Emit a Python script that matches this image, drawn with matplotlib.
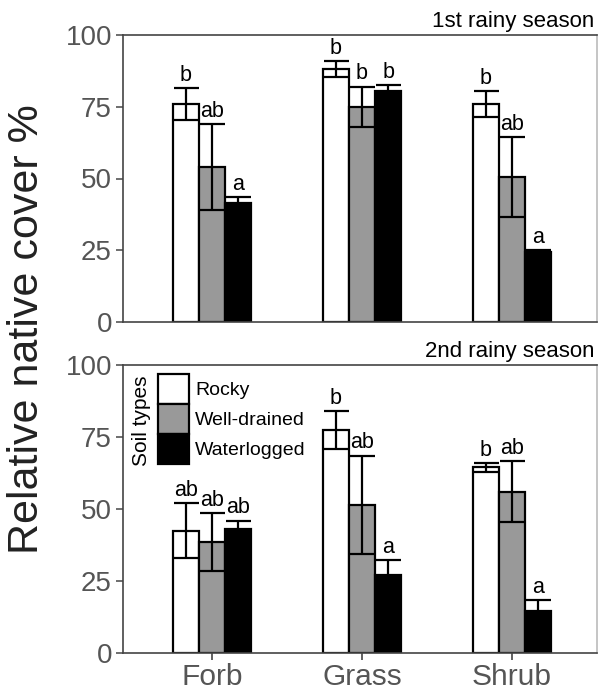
import numpy as np
import matplotlib.pyplot as plt
from matplotlib.patches import Patch

plt.rcParams['font.family'] = ['Liberation Sans', 'DejaVu Sans']

categories = ['Forb', 'Grass', 'Shrub']
soil_types = ['Rocky', 'Well-drained', 'Waterlogged']
soil_colors = ['white', '#999999', 'black']

# 1st rainy season: mean / SE per soil type (Forb, Grass, Shrub)
s1_rocky = [76, 88, 76]
s1_rocky_err = [5.5, 2.8, 4.5]
s1_well = [54, 75, 50.5]
s1_well_err = [15, 7, 14]
s1_water = [41.5, 80.5, 24.5]
s1_water_err = [2, 2, 0.5]
s1_letters = [['b', 'ab', 'a'], ['b', 'b', 'b'], ['b', 'ab', 'a']]

# 2nd rainy season
s2_rocky = [42.5, 77.5, 64.5]
s2_rocky_err = [9.5, 6.5, 1.5]
s2_well = [38.5, 51.5, 56]
s2_well_err = [10, 17, 10.5]
s2_water = [43, 27, 14.5]
s2_water_err = [3, 5.3, 3.8]
s2_letters = [['ab', 'ab', 'ab'], ['b', 'ab', 'a'], ['b', 'ab', 'a']]

W, H = 598, 698
fig = plt.figure(figsize=(W / 100, H / 100), dpi=100)
ax1 = fig.add_axes([123 / W, 1 - 322 / H, (597 - 123) / W, 287 / H])
ax2 = fig.add_axes([123 / W, 1 - 653 / H, (597 - 123) / W, 288 / H])

x = np.arange(len(categories))
bw = 0.175
offsets = [-bw, 0, bw]


def draw_panel(ax, means, errs, letters, title):
    for k in range(3):
        xs = x + offsets[k]
        ax.bar(xs, means[k], width=bw, color=soil_colors[k], edgecolor='black',
               linewidth=1.6, zorder=2)
        ax.errorbar(xs, means[k], yerr=errs[k], fmt='none', ecolor='black',
                    elinewidth=1.6, capsize=9, capthick=1.6, zorder=3)
        for i in range(len(categories)):
            ax.text(xs[i], means[k][i] + errs[k][i] + 0.8, letters[i][k],
                    ha='center', va='bottom', fontsize=15.5, color='black')
    ax.set_ylim(0, 100)
    ax.set_xlim(-0.593, 2.567)
    ax.set_yticks([0, 25, 50, 75, 100])
    ax.tick_params(axis='y', labelsize=20, colors='#555555', length=5, width=1.2,
                   labelcolor='#555555', pad=3)
    for sp in ax.spines.values():
        sp.set_linewidth(1.2)
        sp.set_color('#444444')
    ax.spines['right'].set_color('#bbbbbb')
    ax.text(0.995, 1.012, title, transform=ax.transAxes, ha='right', va='bottom',
            fontsize=16, color='black')


draw_panel(ax1, [s1_rocky, s1_well, s1_water],
           [s1_rocky_err, s1_well_err, s1_water_err], s1_letters, '1st rainy season')
draw_panel(ax2, [s2_rocky, s2_well, s2_water],
           [s2_rocky_err, s2_well_err, s2_water_err], s2_letters, '2nd rainy season')

ax1.set_xticks([])
ax2.set_xticks(x)
ax2.set_xticklabels(categories)
ax2.tick_params(axis='x', labelsize=21.5, colors='#444444', length=5, width=1.2,
                labelcolor='#555555', pad=2)

handles = [Patch(facecolor=c, edgecolor='black', linewidth=1.6) for c in soil_colors]
ax2.legend(handles, soil_types, loc='upper left', bbox_to_anchor=(0.07, 0.975),
           frameon=False, fontsize=14, handlelength=1.6, handleheight=2.0,
           labelspacing=0.0, handletextpad=0.3, borderpad=0.1, borderaxespad=0.0)
ax2.text(0.04, 0.805, 'Soil types', transform=ax2.transAxes, rotation=90,
         ha='center', va='center', fontsize=15, color='black')

fig.text(0.045, 0.529, 'Relative native cover %', rotation=90, ha='center',
         va='center', fontsize=31, color='#222222')

fig.savefig('out.png', dpi=100)
